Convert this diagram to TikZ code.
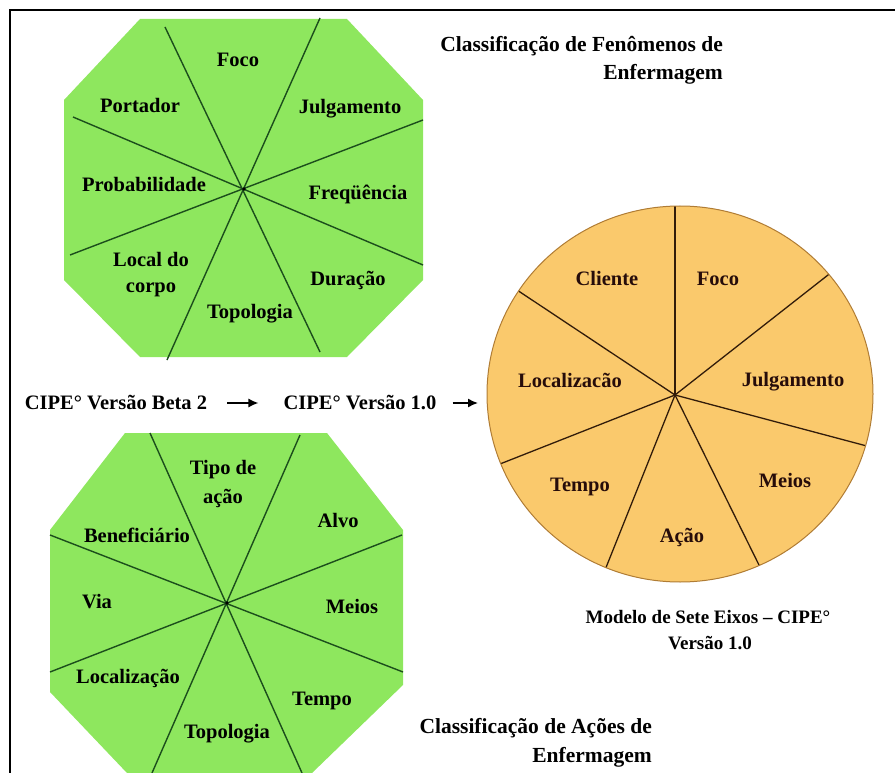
\documentclass[tikz,border=0pt]{standalone}
\usepackage{fontspec}
\setmainfont{Liberation Serif}
\usetikzlibrary{calc,arrows.meta}
\definecolor{octgreen}{RGB}{142,231,94}
\definecolor{octline}{RGB}{28,78,28}
\definecolor{piefill}{RGB}{250,201,108}
\definecolor{pieline}{RGB}{176,124,52}
\definecolor{piespoke}{RGB}{50,28,10}
\definecolor{pietext}{RGB}{38,12,10}
\begin{document}
\begin{tikzpicture}[x=1pt,y=-1pt,
  lbl/.style={anchor=base,inner sep=0pt,font=\fontsize{20.5}{25}\selectfont\bfseries},
  plbl/.style={lbl,text=pietext},
  ttl/.style={anchor=base east,inner sep=0pt,font=\fontsize{21.5}{27}\selectfont\bfseries},
  captxt/.style={anchor=base,inner sep=0pt,font=\fontsize{19}{24}\selectfont\bfseries},
  ospk/.style={draw=octline,line width=1.4pt},
  pspk/.style={draw=piespoke,line width=1.3pt},
  arr/.style={line width=1.5pt,-{Latex[length=10pt,width=9pt]}}]
\useasboundingbox (0,0) rectangle (895,773);
% frame
\draw[line width=1.5pt] (10,773) -- (10,10) -- (895,10);

% ---------- top octagon ----------
\fill[octgreen] (140,19) -- (347,19) -- (423,100) -- (423,280) -- (347,357) -- (140,357) -- (64,280) -- (64,100) -- cycle;
\coordinate (tc) at (244,189);
\coordinate (t1) at (165,27);  \coordinate (t2) at (320,352);
\coordinate (t3) at (320,18);  \coordinate (t4) at (167,360);
\coordinate (t5) at (73,117);  \coordinate (t6) at (423,265);
\coordinate (t7) at (423,120); \coordinate (t8) at (70,255);
\draw[ospk] (t1) -- (t2);
\draw[ospk] (t3) -- (t4);
\draw[ospk] (t5) -- (t6);
\draw[ospk] (t7) -- (t8);
\fill[black] (tc) circle [radius=1.8pt];
\node[lbl] (tfoco) at (238,67) {Foco};
\node[lbl] (tport) at (140,113) {Portador};
\node[lbl] (tjulg) at (350,114) {Julgamento};
\node[lbl] (tprob) at (144,192) {Probabilidade};
\node[lbl] (tfreq) at (358,200) {Freqüência};
\node[lbl] (tloc1) at (151,266) {Local do};
\node[lbl] (tloc2) at (151,292) {corpo};
\node[lbl] (tdur) at (348,285) {Duração};
\node[lbl] (ttop) at (250,318) {Topologia};

% top title
\node[ttl] (title1a) at (723,52) {Classificação de Fenômenos de};
\node[ttl] (title1b) at (723,80) {Enfermagem};

% ---------- middle line ----------
\node[lbl] (beta) at (116,409) {CIPE° Versão Beta 2};
\node[lbl] (v10) at (360,409) {CIPE° Versão 1.0};
\coordinate (ay) at (0,403);
\coordinate (a2e) at (478,403);
\draw[arr] ($(beta.east |- ay)+(20,0)$) coordinate (a1s) -- ($(v10.west |- ay)+(-25,0)$) coordinate (a1e);
\draw[arr] ($(v10.east |- ay)+(16,0)$) coordinate (a2s) -- (a2e);

% ---------- bottom octagon ----------
\fill[octgreen] (125,433) -- (327,433) -- (403,530) -- (403,685) -- (312,773) -- (127,773) -- (50,692) -- (50,530) -- cycle;
\coordinate (bc) at (227,603);
\coordinate (b1) at (150,433); \coordinate (b2) at (302,773);
\coordinate (b3) at (300,435); \coordinate (b4) at (152,773);
\coordinate (b5) at (50,535);  \coordinate (b6) at (403,672);
\coordinate (b7) at (402,535); \coordinate (b8) at (50,672);
\draw[ospk] (b1) -- (b2);
\draw[ospk] (b3) -- (b4);
\draw[ospk] (b5) -- (b6);
\draw[ospk] (b7) -- (b8);
\fill[black] (bc) circle [radius=1.8pt];
\node[lbl] (btip1) at (223,474) {Tipo de};
\node[lbl] (btip2) at (223,503) {ação};
\node[lbl] (bben) at (137,542) {Beneficiário};
\node[lbl] (balvo) at (338,527) {Alvo};
\node[lbl] (bvia) at (97,608) {Via};
\node[lbl] (bmeios) at (352,613) {Meios};
\node[lbl] (bloc) at (128,683) {Localização};
\node[lbl] (btempo) at (322,705) {Tempo};
\node[lbl] (btop) at (227,738) {Topologia};

% bottom title
\node[ttl] (title2a) at (652,733) {Classificação de Ações de};
\node[ttl] (title2b) at (652,762) {Enfermagem};

% ---------- pie ----------
\coordinate (pc) at (675,395);
\coordinate (p1) at (675,206);
\coordinate (p2) at (828,275);
\coordinate (p3) at (863,445);
\coordinate (p4) at (758,563);
\coordinate (p5) at (607,565);
\coordinate (p6) at (505,462);
\coordinate (p7) at (520,292);
\begin{scope}
  \clip (680,394) ellipse [x radius=193, y radius=188];
  \fill[piefill] (680,394) ellipse [x radius=193, y radius=188];
  \foreach \p in {p1,p2,p3,p4,p5,p6,p7}
    \draw[pspk] (pc) -- ($(pc)!1.2!(\p)$);
\end{scope}
\draw[pieline,line width=1pt] (680,394) ellipse [x radius=193, y radius=188];
\node[plbl] (pcli) at (607,285) {Cliente};
\node[plbl] (pfoco) at (718,285) {Foco};
\node[plbl] (ploc) at (570,387) {Localizacão};
\node[plbl] (pjulg) at (793,386) {Julgamento};
\node[plbl] (ptempo) at (580,491) {Tempo};
\node[plbl] (pmeios) at (785,487) {Meios};
\node[plbl] (pacao) at (682,542) {Ação};
\node[captxt] (cap1) at (708,623) {Modelo de Sete Eixos – CIPE°};
\node[captxt] (cap2) at (710,649) {Versão 1.0};
\end{tikzpicture}
\end{document}
